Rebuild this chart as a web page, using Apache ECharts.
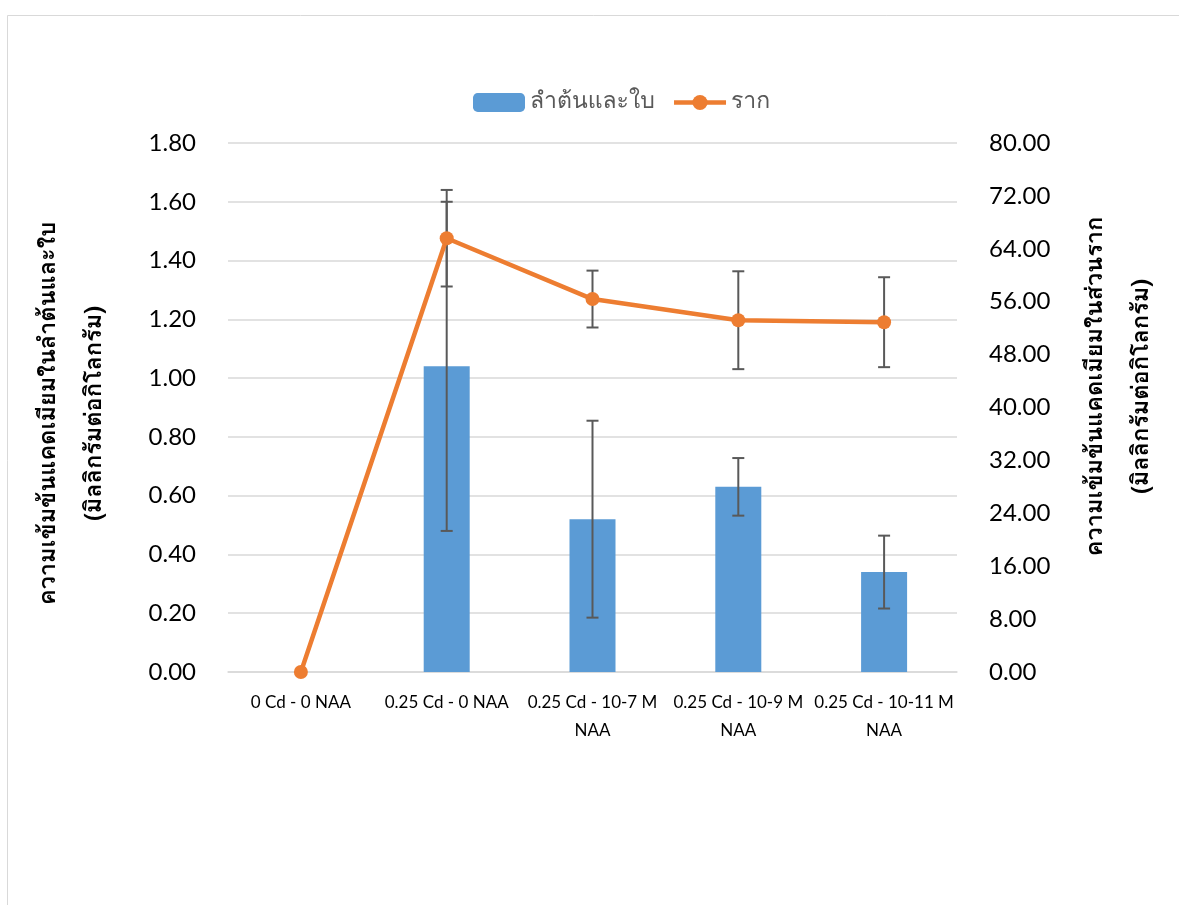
<!DOCTYPE html>
<html>
<head>
<meta charset="utf-8">
<script src="https://cdn.jsdelivr.net/npm/echarts@6/dist/echarts.min.js"></script>
<style>
html,body{margin:0;padding:0;background:#fff;}
#chart{width:1179px;height:905px;}
</style>
</head>
<body>
<div id="chart"></div>
<script>
const categories = ['0 Cd - 0 NAA', '0.25 Cd - 0 NAA', '0.25 Cd - 10-7 M\nNAA', '0.25 Cd - 10-9 M\nNAA', '0.25 Cd - 10-11 M\nNAA'];
const shootValues = [0, 1.04, 0.52, 0.63, 0.34];
const shootErrors = [0, 0.56, 0.335, 0.098, 0.124];
const rootValues = [0, 65.6, 56.4, 53.2, 52.9];
const rootErrors = [0, 7.3, 4.3, 7.4, 6.8];
const shootName = 'ลำต้นและใบ';
const rootName = 'ราก';
const leftTitle = 'ความเข้มข้นแคดเมียมในลำต้นและใบ\n(มิลลิกรัมต่อกิโลกรัม)';
const rightTitle = 'ความเข้มข้นแคดเมียมในส่วนราก\n(มิลลิกรัมต่อกิโลกรัม)';

const thaiFont = 'Tahoma, Loma, Garuda, "Noto Sans Thai Looped", "Noto Sans Thai", sans-serif';
const numFont = 'Lato, "Noto Sans", sans-serif';

function errData(vals, errs) {
  return vals.map((v, i) => [i, v - errs[i], v + errs[i], errs[i]]);
}
function errRender(params, api) {
  if (api.value(3) === 0) return null;
  const lo = api.coord([api.value(0), api.value(1)]);
  const hi = api.coord([api.value(0), api.value(2)]);
  const hw = 6;
  const style = {stroke: '#595959', lineWidth: 2};
  return {
    type: 'group',
    children: [
      {type: 'line', shape: {x1: lo[0], y1: lo[1], x2: hi[0], y2: hi[1]}, style},
      {type: 'line', shape: {x1: lo[0] - hw, y1: lo[1], x2: lo[0] + hw, y2: lo[1]}, style},
      {type: 'line', shape: {x1: hi[0] - hw, y1: hi[1], x2: hi[0] + hw, y2: hi[1]}, style}
    ]
  };
}

const chart = echarts.init(document.getElementById('chart'));
chart.setOption({
  animation: false,
  backgroundColor: '#fff',
  graphic: [{
    type: 'rect', left: 5, top: 13,
    shape: {width: 1300, height: 1000},
    style: {fill: 'none', stroke: '#D9D9D9', lineWidth: 1}, silent: true
  }],
  legend: {
    data: [shootName, rootName],
    top: 91, left: 473, padding: 0,
    itemWidth: 52, itemHeight: 19, itemGap: 17,
    lineStyle: {width: 4.5},
    textStyle: {fontSize: 23, color: '#595959', fontFamily: thaiFont}
  },
  grid: {left: 228, right: 222, top: 143, bottom: 233, outerBoundsMode: 'none'},
  xAxis: {
    type: 'category', data: categories,
    axisLine: {lineStyle: {color: '#D9D9D9', width: 1.5}},
    axisTick: {show: false},
    axisLabel: {interval: 0, fontSize: 17, lineHeight: 28, margin: 17, color: '#000', fontFamily: numFont}
  },
  yAxis: [{
    type: 'value', min: 0, max: 1.8, interval: 0.2,
    name: leftTitle, nameLocation: 'middle', nameGap: 109, nameRotate: 90,
    nameTextStyle: {fontSize: 23.5, fontWeight: 'bold', color: '#000', fontFamily: thaiFont, lineHeight: 46, padding: [0, 12, 0, 0]},
    axisLabel: {formatter: v => v.toFixed(2), fontSize: 24, color: '#000', margin: 32, fontFamily: numFont},
    splitLine: {lineStyle: {color: '#D9D9D9', width: 1.5}},
    axisLine: {show: false}, axisTick: {show: false}
  }, {
    type: 'value', min: 0, max: 80, interval: 8,
    name: rightTitle, nameLocation: 'middle', nameGap: 117, nameRotate: 90,
    nameTextStyle: {fontSize: 23.5, fontWeight: 'bold', color: '#000', fontFamily: thaiFont, lineHeight: 46, padding: [0, 0, 0, 42]},
    axisLabel: {formatter: v => v.toFixed(2), fontSize: 24, color: '#000', margin: 32, fontFamily: numFont},
    splitLine: {show: false},
    axisLine: {show: false}, axisTick: {show: false}
  }],
  series: [{
    name: shootName, type: 'bar', data: shootValues, yAxisIndex: 0,
    barWidth: 46, itemStyle: {color: '#5B9BD5'}, z: 2
  }, {
    type: 'custom', yAxisIndex: 0, data: errData(shootValues, shootErrors),
    renderItem: errRender, z: 3, silent: true,
    encode: {x: 0, y: [1, 2]}
  }, {
    type: 'custom', yAxisIndex: 1, data: errData(rootValues, rootErrors),
    renderItem: errRender, z: 3, silent: true,
    encode: {x: 0, y: [1, 2]}
  }, {
    name: rootName, type: 'line', data: rootValues, yAxisIndex: 1,
    symbol: 'circle', symbolSize: 14,
    lineStyle: {color: '#ED7D31', width: 4.5},
    itemStyle: {color: '#ED7D31'}, z: 5
  }]
});
</script>
</body>
</html>
